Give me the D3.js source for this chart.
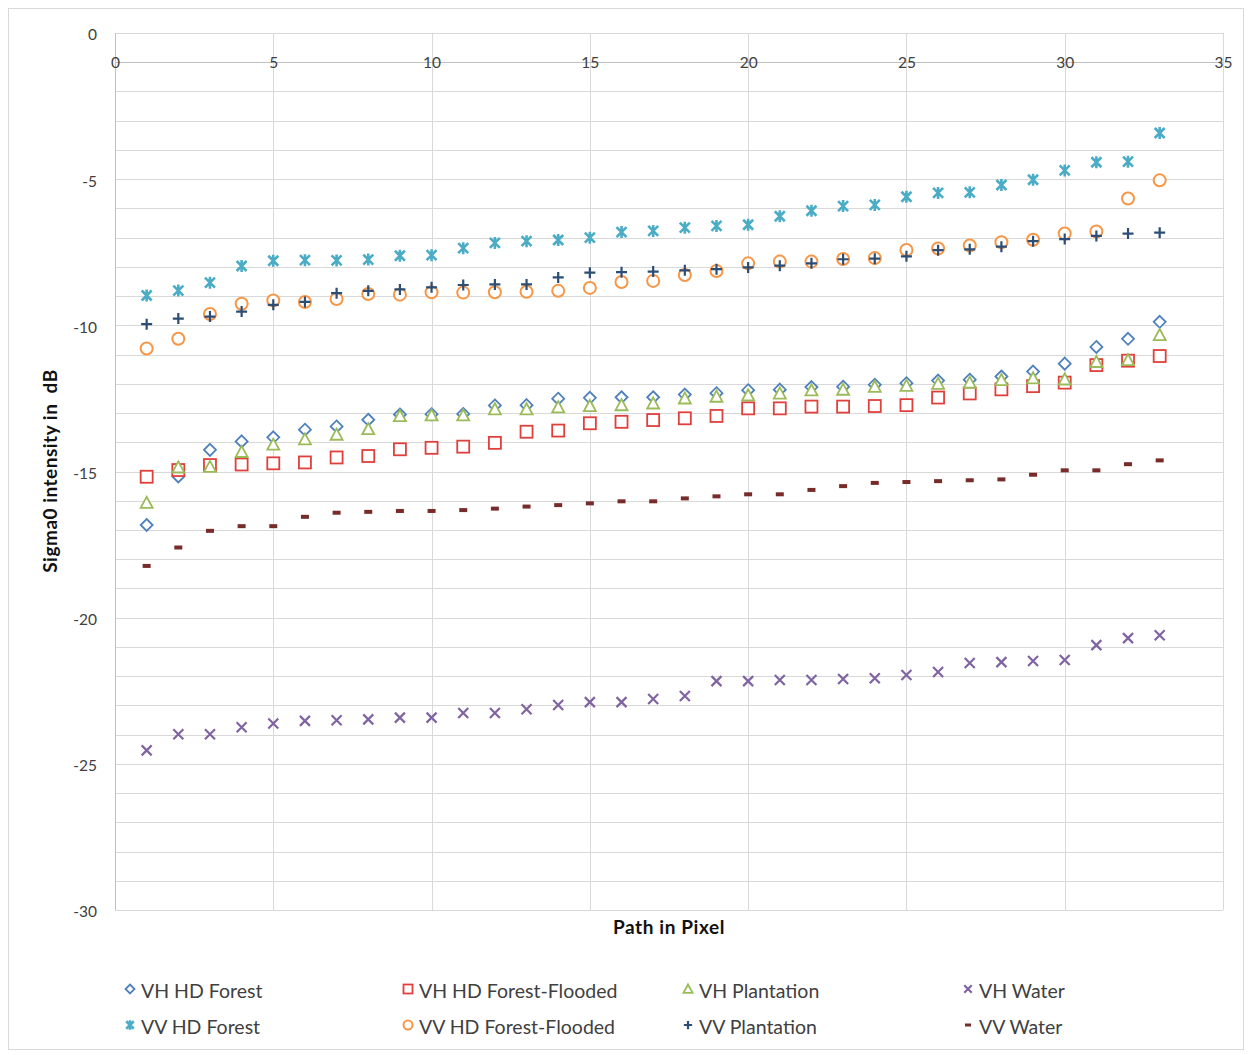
<!DOCTYPE html>
<html><head><meta charset="utf-8">
<script src="https://cdn.jsdelivr.net/npm/d3@7"></script>
<style>body{margin:0;background:#fff}svg{display:block}</style>
</head><body>
<svg id="chart" width="1252" height="1055"></svg>
<script>
const pixels = d3.range(1, 34);
const xTicks = [0,5,10,15,20,25,30,35];
const yTicks = [0,-5,-10,-15,-20,-25,-30];
const seriesNames = ["VH HD Forest","VH HD Forest-Flooded","VH Plantation","VH Water","VV HD Forest","VV HD Forest-Flooded","VV Plantation","VV Water"];
const vhForest = [-16.83,-15.17,-14.26,-13.97,-13.83,-13.57,-13.46,-13.23,-13.05,-13.04,-13.03,-12.74,-12.73,-12.51,-12.48,-12.46,-12.46,-12.37,-12.32,-12.22,-12.2,-12.11,-12.1,-12.03,-11.98,-11.89,-11.86,-11.75,-11.58,-11.31,-10.74,-10.46,-9.88];
const vhFlooded = [-15.18,-14.95,-14.78,-14.76,-14.72,-14.69,-14.52,-14.47,-14.24,-14.19,-14.15,-14.02,-13.64,-13.6,-13.35,-13.3,-13.24,-13.18,-13.1,-12.84,-12.84,-12.78,-12.78,-12.76,-12.73,-12.47,-12.33,-12.19,-12.08,-11.96,-11.36,-11.21,-11.05];
const vhPlantation = [-16.07,-14.86,-14.84,-14.33,-14.08,-13.9,-13.74,-13.55,-13.1,-13.08,-13.08,-12.87,-12.87,-12.8,-12.76,-12.73,-12.67,-12.5,-12.44,-12.39,-12.33,-12.22,-12.2,-12.1,-12.07,-12.0,-11.96,-11.87,-11.81,-11.85,-11.25,-11.19,-10.33];
const vhWater = [-24.54,-23.99,-23.99,-23.75,-23.62,-23.53,-23.51,-23.48,-23.42,-23.42,-23.26,-23.26,-23.13,-22.99,-22.89,-22.89,-22.78,-22.68,-22.17,-22.17,-22.13,-22.13,-22.1,-22.07,-21.96,-21.86,-21.55,-21.52,-21.48,-21.45,-20.94,-20.7,-20.6];
const vvForest = [-8.98,-8.81,-8.54,-7.97,-7.79,-7.77,-7.78,-7.75,-7.62,-7.6,-7.36,-7.18,-7.12,-7.08,-7.0,-6.81,-6.77,-6.66,-6.6,-6.56,-6.27,-6.08,-5.92,-5.88,-5.6,-5.47,-5.45,-5.2,-5.02,-4.7,-4.42,-4.4,-3.42];
const vvFlooded = [-10.79,-10.46,-9.61,-9.26,-9.15,-9.2,-9.1,-8.93,-8.95,-8.87,-8.88,-8.87,-8.85,-8.82,-8.72,-8.52,-8.48,-8.28,-8.14,-7.88,-7.82,-7.82,-7.73,-7.7,-7.42,-7.37,-7.27,-7.16,-7.07,-6.86,-6.79,-5.66,-5.04];
const vvPlantation = [-9.96,-9.77,-9.7,-9.53,-9.3,-9.2,-8.9,-8.82,-8.77,-8.7,-8.62,-8.6,-8.6,-8.36,-8.2,-8.18,-8.16,-8.12,-8.08,-8.02,-7.96,-7.88,-7.74,-7.72,-7.64,-7.43,-7.4,-7.31,-7.12,-7.05,-6.94,-6.86,-6.83];
const vvWater = [-18.23,-17.6,-17.03,-16.87,-16.87,-16.55,-16.41,-16.38,-16.35,-16.35,-16.32,-16.27,-16.2,-16.15,-16.09,-16.02,-16.02,-15.92,-15.85,-15.78,-15.78,-15.63,-15.5,-15.39,-15.36,-15.33,-15.3,-15.27,-15.11,-14.96,-14.96,-14.75,-14.62];

const seriesValues = [vhForest, vhFlooded, vhPlantation, vhWater, vvForest, vvFlooded, vvPlantation, vvWater];
const colors = ["#4F81BD","#E0403C","#9BBB59","#8064A2","#4BACC6","#F79646","#2C4D75","#772C2A"];
const markers = ["diamond","square","triangle","x","star","circle","plus","dash"];

const svg = d3.select("#chart");
const font = "Lato, 'Open Sans', sans-serif";
const x = d3.scaleLinear().domain([0,35]).range([115,1223]);
const y = d3.scaleLinear().domain([0,-30]).range([33,910]);

// outer border
svg.append("rect").attr("x",8.5).attr("y",8.5).attr("width",1235).attr("height",1041)
  .attr("fill","#fff").attr("stroke","#d9d9d9");

// horizontal gridlines every 1 dB
const g = svg.append("g");
g.selectAll("line.h").data(d3.range(0,-31,-1)).join("line")
  .attr("x1",x(0)).attr("x2",x(35)).attr("y1",d=>Math.round(y(d))+0.5).attr("y2",d=>Math.round(y(d))+0.5)
  .attr("stroke","#d9d9d9").attr("stroke-width",1);
// vertical gridlines every 5
g.selectAll("line.v").data(xTicks).join("line")
  .attr("y1",y(0)).attr("y2",y(-30)).attr("x1",d=>Math.round(x(d))+0.5).attr("x2",d=>Math.round(x(d))+0.5)
  .attr("stroke","#d9d9d9").attr("stroke-width",1);
// horizontal axis at -1
g.append("line").attr("x1",x(0)).attr("x2",x(35)).attr("y1",Math.round(y(-1))+0.5).attr("y2",Math.round(y(-1))+0.5)
  .attr("stroke","#bfbfbf");
g.append("line").attr("y1",y(0)).attr("y2",y(-30)).attr("x1",Math.round(x(0))+0.5).attr("x2",Math.round(x(0))+0.5)
  .attr("stroke","#bfbfbf");

// axes labels via d3 axes
const yAxis = d3.axisLeft(y).tickValues(yTicks).tickSize(0).tickPadding(0).tickFormat(d => String(d));
const ya = svg.append("g").attr("transform","translate(97,2)").call(yAxis);
ya.select(".domain").remove();
ya.selectAll("text").attr("font-family",font).attr("font-size",15.5).attr("fill","#404040");

const xAxis = d3.axisTop(x).tickValues(xTicks).tickSize(0).tickPadding(0).tickFormat(d => String(d));
const xa = svg.append("g").attr("transform",`translate(0,${y(-1)})`).call(xAxis);
xa.select(".domain").remove();
xa.selectAll("text").attr("font-family",font).attr("font-size",15.5).attr("fill","#404040")
  .attr("dy","0.35em").attr("y",0);

// axis titles
svg.append("text").attr("x",669).attr("y",934).attr("text-anchor","middle")
  .attr("font-family",font).attr("font-size",19).attr("font-weight","bold").attr("fill","#111")
  .attr("letter-spacing",0.6)
  .text("Path in Pixel");
svg.append("text").attr("transform","translate(57,471) rotate(-90)").attr("text-anchor","middle")
  .attr("font-family",font).attr("font-size",19).attr("font-weight","bold").attr("fill","#111")
  .attr("letter-spacing",0.5).style("white-space","pre")
  .text("Sigma0 intensity in  dB");

function drawMarker(sel, type, color, s) {
  const r = 6*s;
  if (type==="diamond") sel.append("path").attr("d",`M0,${-r}L${r},0L0,${r}L${-r},0Z`).attr("fill","#fff").attr("stroke",color).attr("stroke-width",1.8);
  else if (type==="square") sel.append("rect").attr("x",-r).attr("y",-r).attr("width",2*r).attr("height",2*r).attr("fill","#fff").attr("stroke",color).attr("stroke-width",1.8);
  else if (type==="triangle") sel.append("path").attr("d",`M0,${-r}L${r},${r*0.85}L${-r},${r*0.85}Z`).attr("fill","#fff").attr("stroke",color).attr("stroke-width",1.8);
  else if (type==="circle") sel.append("circle").attr("r",r).attr("fill","#fff").attr("stroke",color).attr("stroke-width",2);
  else if (type==="x") { const a=5*s; sel.append("path").attr("d",`M${-a},${-a}L${a},${a}M${-a},${a}L${a},${-a}`).attr("stroke",color).attr("stroke-width",2.2).attr("fill","none"); }
  else if (type==="star") { const a=5*s; sel.append("path").attr("d",`M${-a},${-a}L${a},${a}M${-a},${a}L${a},${-a}M0,${-a-1}L0,${a+1}`).attr("stroke",color).attr("stroke-width",2.6).attr("fill","none"); }
  else if (type==="plus") { const a=5.5*s; sel.append("path").attr("d",`M${-a},0L${a},0M0,${-a}L0,${a}`).attr("stroke",color).attr("stroke-width",2.2).attr("fill","none"); }
  else if (type==="dash") sel.append("rect").attr("x",-4*s).attr("y",-2*s).attr("width",8*s).attr("height",4*s).attr("fill",color);
}

// series
seriesValues.forEach((vals, i) => {
  const data = pixels.map((p, j) => ({p, v: vals[j]}));
  const sg = svg.append("g");
  sg.selectAll("g").data(data).join("g")
    .attr("transform", d => `translate(${x(d.p)},${y(d.v)})`)
    .each(function(){ drawMarker(d3.select(this), markers[i], colors[i], 1); });
});

// legend
const legX = [130, 408, 688, 968];
const legY = [991, 1027];
seriesNames.forEach((name, i) => {
  const col = i % 4, row = Math.floor(i/4);
  const lg = svg.append("g").attr("transform",`translate(${legX[col]},${legY[row]})`);
  const mg = lg.append("g").attr("transform","translate(0,-2)");
  drawMarker(mg, markers[i], colors[i], 0.75);
  lg.append("text").attr("x",11).attr("y",0).attr("dy","0.35em")
    .attr("font-family",font).attr("font-size",19.5).attr("fill","#404040").text(name);
});
</script>
</body></html>
